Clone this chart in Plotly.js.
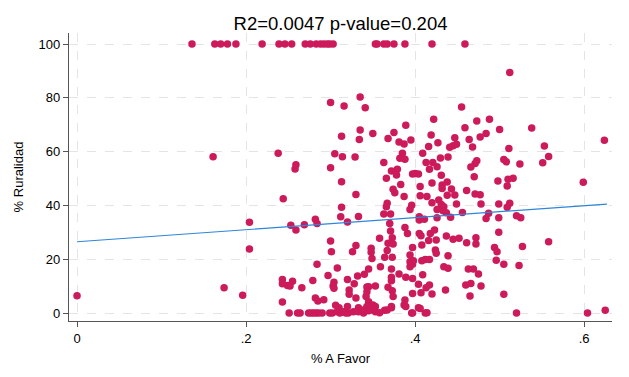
<!DOCTYPE html>
<html><head><meta charset="utf-8">
<script src="https://cdn.plot.ly/plotly-3.0.1.min.js"></script>
<style>html,body{margin:0;padding:0;background:#fff}#chart{width:629px;height:377px}</style>
</head><body><div id="chart"></div>
<script>
// % A Favor (x) and % Ruralidad (y) for each unit
const xFavor = [
0.136,0.163,0.170,0.178,0.188,0.219,0.239,0.246,0.254,0.270,0.276,0.283,0.288,0.292,0.296,0.299,0.303,0.353,0.355,0.363,0.367,0.375,0.388,0.420,0.459,
0.161,0.000,0.204,0.204,0.174,0.196,
0.300,0.316,0.335,0.341,0.335,0.313,0.334,0.238,0.305,0.314,0.329,0.259,0.258,0.300,
0.313,0.330,0.244,0.313,0.312,0.333,0.320,0.282,0.284,0.253,0.259,0.269,0.300,0.301,0.330,0.326,
0.284,0.308,0.297,0.279,0.243,0.243,0.249,0.255,0.252,0.266,0.304,0.303,0.304,0.320,0.332,0.340,0.345,0.328,0.322,0.322,0.330,0.343,0.342,
0.243,0.282,0.285,0.292,0.306,0.310,0.320,0.333,0.345,
0.251,0.261,0.264,0.274,0.277,0.280,0.283,0.286,0.290,0.299,0.302,0.308,0.311,0.315,0.318,0.321,0.327,0.333,0.339,0.345,
0.520,0.604,0.625,0.396,0.412,0.404,0.387,0.372,0.364,
0.455,0.422,0.473,0.488,0.389,0.459,0.350,0.375,0.368,0.419,0.484,0.477,0.464,0.447,0.381,0.387,0.395,0.427,
0.416,0.441,0.445,0.449,0.468,0.385,0.409,0.439,0.430,0.382,0.388,0.413,0.421,0.363,0.473,0.471,0.466,0.426,0.379,0.372,0.417,0.378,0.397,0.400,0.404,0.431,0.470,0.366,
0.383,0.374,0.376,0.406,0.420,0.432,0.438,0.406,0.387,0.414,0.432,0.443,0.447,0.438,0.461,0.471,0.477,
0.420,0.428,0.431,0.434,0.433,0.437,0.426,0.396,0.394,0.449,0.442,0.456,0.478,0.484,0.487,0.366,0.367,0.363,0.371,
0.405,0.405,0.426,0.411,0.370,0.388,0.391,0.371,0.405,0.418,0.423,0.407,0.416,0.425,0.437,0.445,0.452,0.461,0.472,0.472,
0.358,0.368,0.373,0.374,0.397,0.408,0.348,0.348,0.349,0.367,0.364,0.373,0.394,0.424,0.425,0.439,
0.394,0.398,0.408,0.412,0.417,0.394,0.397,0.359,0.372,0.434,0.439,0.463,0.469,0.475,
0.381,0.372,0.372,0.389,0.397,0.409,0.404,0.413,0.417,0.345,0.353,0.368,0.373,0.343,0.374,
0.460,0.466,0.478,0.436,0.397,0.407,0.420,0.465,0.388,0.389,0.372,0.367,0.406,0.414,0.397,
0.345,0.350,0.353,0.343,0.339,0.347,0.353,0.358,
0.512,0.500,0.538,0.624,0.511,0.553,0.558,0.551,0.524,0.505,0.508,
0.498,0.510,0.516,0.509,0.599,0.499,0.512,0.509,0.499,0.520,0.525,0.499,0.558,0.494,0.497,0.527,0.496,0.505,0.523,0.505
];
const yRural = [
100,100,100,100,100,100,100,100,100,100,100,100,100,100,100,100,100,100,100,100,100,100,100,100,100,
58.1,6.4,33.7,23.8,9.4,6.6,
78.3,77.0,80.3,76.3,68.0,65.7,64.5,59.4,59.2,58.1,58.0,55.1,53.5,54.0,
48.8,44.1,42.5,39.3,35.8,35.9,33.8,34.9,33.3,32.6,30.9,32.8,26.8,22.8,25.1,22.8,
18.1,16.7,13.9,12.1,12.5,10.9,10.2,11.8,10.0,9.4,11.4,10.0,9.2,12.5,13.8,14.4,16.4,10.9,8.6,7.0,5.6,9.7,6.1,
4.1,5.6,4.5,4.9,2.9,2.0,2.4,2.0,2.4,
0,0,0,0,0,0,0,0,0,0,0,0.5,0,0.5,0,0,0.5,0.5,0,0.8,
0,0,1.0,0,0,2.0,3.0,2.0,1.0,
76.6,72.0,71.4,72.0,69.8,68.9,66.7,67.1,64.9,66.2,66.7,65.4,64.5,65.2,63.6,62.8,64.3,63.3,
61.9,61.6,62.2,62.7,61.7,59.4,59.4,58.0,57.6,57.5,57.2,56.0,56.0,56.0,56.6,55.6,54.3,54.4,53.4,52.8,53.4,51.3,51.7,51.9,51.7,51.2,50.7,50.1,
47.8,46.0,44.7,47.0,48.3,47.6,48.7,43.6,43.3,43.3,46.3,46.1,43.9,43.8,45.5,44.2,44.0,
41.0,42.0,40.3,39.5,38.0,37.3,38.5,40.1,38.5,40.5,35.6,37.4,40.5,35.1,37.1,39.5,40.8,36.8,36.8,
35.8,34.6,35.4,34.9,33.3,31.8,29.6,30.5,29.6,29.6,30.9,28.7,27.0,27.1,28.6,27.4,27.8,26.1,28.0,25.7,
27.8,25.9,28.0,25.7,24.4,25.3,24.1,22.6,20.3,23.2,20.7,20.7,21.6,23.4,22.2,21.3,
19.1,19.4,19.4,19.9,19.9,17.2,18.1,17.2,16.4,17.2,16.6,16.4,16.4,14.5,
14.5,13.3,12.0,13.3,12.8,14.2,10.7,9.4,10.4,9.8,10.0,9.6,8.3,7.9,6.1,
10.4,11.0,10.0,8.6,7.3,7.5,7.1,6.3,4.8,2.4,2.4,1.1,1.7,0.1,0,
4.2,3.0,2.4,2.4,1.1,1.1,0.5,0.1,
89.4,68.2,68.8,64.2,61.2,62.1,58.2,55.9,55.4,57.1,56.2,
49.1,49.7,50.1,47.2,48.6,40.5,40.8,39.3,35.4,36.2,35.4,30.0,26.5,24.4,22.8,24.7,19.6,18.1,17.7,7.0
];
// Fitted line endpoints (linear fit over the x range)
const fitX = [0, 0.627];
const fitY = [26.5, 40.5];
const xTickVals = [0, 0.2, 0.4, 0.6];
const xTickText = ['0', '.2', '.4', '.6'];
const yTickVals = [0, 20, 40, 60, 80, 100];
const titleText = 'R2=0.0047 p-value=0.204';

const font = "'Liberation Sans', Arial, sans-serif";
const traces = [
  {x: xFavor, y: yRural, type: 'scatter', mode: 'markers',
   marker: {color: '#cc1a5a', size: 7.5, line: {width: 0}}, hoverinfo: 'x+y'},
  {x: fitX, y: fitY, type: 'scatter', mode: 'lines',
   line: {color: '#2f86d9', width: 1.2}}
];
const layout = {
  width: 629, height: 377, showlegend: false,
  paper_bgcolor: '#fff', plot_bgcolor: '#fff',
  margin: {l: 69, r: 17, t: 33, b: 56},
  font: {family: font, color: '#000'},
  title: {text: titleText, font: {size: 18.5, family: font, color: '#000'}, x: 0.5, xref: 'paper', y: 0.938, yanchor: 'middle'},
  xaxis: {range: [-0.0095, 0.633], tickvals: xTickVals, ticktext: xTickText,
    showgrid: true, gridcolor: '#e4e4e4', griddash: 'dash', gridwidth: 1,
    zeroline: false, showline: true, linecolor: '#555', linewidth: 1.2,
    ticks: 'outside', ticklen: 5, tickcolor: '#555', tickfont: {size: 13},
    title: {text: '% A Favor', font: {size: 13}, standoff: 9}},
  yaxis: {range: [-2.97, 104.1], tickvals: yTickVals,
    showgrid: true, gridcolor: '#e4e4e4', griddash: 'dash', gridwidth: 1,
    zeroline: false, showline: true, linecolor: '#555', linewidth: 1.2,
    ticks: 'outside', ticklen: 5, tickcolor: '#555', tickfont: {size: 13},
    title: {text: '% Ruralidad', font: {size: 13}, standoff: 12}}
};
Plotly.newPlot('chart', traces, layout, {displayModeBar: false, staticPlot: true});
</script></body></html>
